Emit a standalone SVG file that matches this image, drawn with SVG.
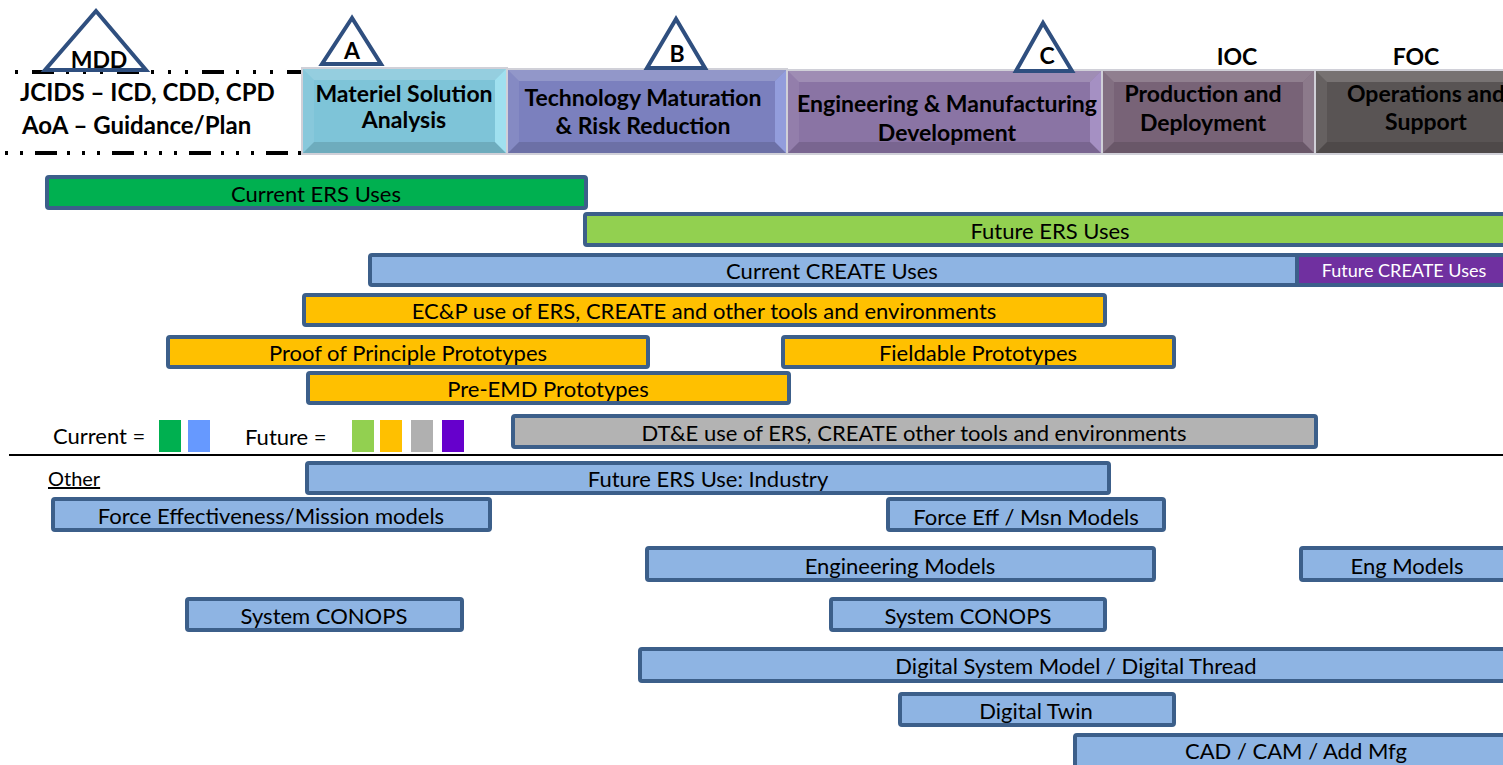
<svg xmlns="http://www.w3.org/2000/svg" width="1503" height="765" viewBox="0 0 1503 765">
<style>
.bar{stroke:#3C5F8A;stroke-width:4}
.blue{fill:#8EB4E3}
.t{font-family:Lato,"Liberation Sans",sans-serif;font-size:22px;fill:#000;text-anchor:middle;dominant-baseline:central}
.ph{font-family:Lato,"Liberation Sans",sans-serif;font-size:23px;font-weight:bold;fill:#000;text-anchor:middle}
.tri{fill:#fff;stroke:#2F4F7F;stroke-width:4;stroke-linejoin:miter}
.lbl{font-family:Lato,"Liberation Sans",sans-serif;font-size:23px;font-weight:bold;fill:#000;text-anchor:middle}
.hl{fill:#fff;opacity:.18}
.hd{fill:#000;opacity:.12}
.edge{fill:none;stroke:#D0D0D8;stroke-width:2}
</style>
<rect width="1503" height="765" fill="#fff"/>

<!-- left dashed frame -->
<g id="jcids">
<line x1="15" y1="72" x2="302" y2="72" stroke="#000" stroke-width="4" stroke-dasharray="3 14 22 12 3 14 3 14"/>
<line x1="5" y1="153" x2="322" y2="153" stroke="#000" stroke-width="4" stroke-dasharray="3 12 3 12 22 10 3 12"/>
<text x="20" y="101" font-family="Lato,'Liberation Sans',sans-serif" font-size="24" font-weight="bold">JCIDS – ICD, CDD, CPD</text>
<text x="22" y="134" font-family="Lato,'Liberation Sans',sans-serif" font-size="24" font-weight="bold">AoA – Guidance/Plan</text>
</g>

<!-- phases -->
<g id="msa">
<rect x="302" y="68" width="205" height="86" fill="#7EC4D8"/>
<polygon points="302,68 507,68 495,80 314,80" class="hl"/>
<polygon points="302,68 314,80 314,142 302,154" fill="#fff" opacity=".08"/>
<polygon points="302,154 314,142 495,142 507,154" class="hd"/>
<polygon points="507,68 495,80 495,142 507,154" fill="#B8F4FF" opacity=".6"/>
<rect x="302" y="68" width="205" height="86" class="edge" stroke="#A8E6F4"/>
<text x="404" y="102" class="ph">Materiel Solution</text>
<text x="404" y="128" class="ph">Analysis</text>
</g>
<g id="tmrr">
<rect x="507" y="69" width="280" height="85" fill="#7B80BE"/>
<polygon points="507,69 787,69 775,81 519,81" class="hl"/>
<polygon points="507,69 519,81 519,142 507,154" fill="#fff" opacity=".08"/>
<polygon points="507,154 519,142 775,142 787,154" class="hd"/>
<polygon points="787,69 775,81 775,142 787,154" fill="#A4B0F0" opacity=".6"/>
<rect x="507" y="69" width="280" height="85" class="edge"/>
<text x="643" y="106" class="ph">Technology Maturation</text>
<text x="643" y="134" class="ph">&amp; Risk Reduction</text>
</g>
<g id="emd">
<rect x="787" y="70" width="315" height="84" fill="#8A74A4"/>
<polygon points="787,70 1102,70 1090,82 799,82" class="hl"/>
<polygon points="787,70 799,82 799,142 787,154" fill="#fff" opacity=".08"/>
<polygon points="787,154 799,142 1090,142 1102,154" class="hd"/>
<polygon points="1102,70 1090,82 1090,142 1102,154" fill="#B8A4D8" opacity=".6"/>
<rect x="787" y="70" width="315" height="84" class="edge"/>
<text x="947" y="112" class="ph">Engineering &amp; Manufacturing</text>
<text x="947" y="141" class="ph">Development</text>
</g>
<g id="pd">
<rect x="1102" y="70" width="213" height="84" fill="#786377"/>
<polygon points="1102,70 1315,70 1303,82 1114,82" class="hl"/>
<polygon points="1102,70 1114,82 1114,142 1102,154" fill="#fff" opacity=".08"/>
<polygon points="1102,154 1114,142 1303,142 1315,154" class="hd"/>
<polygon points="1315,70 1303,82 1303,142 1315,154" fill="#9A8A9A" opacity=".6"/>
<rect x="1102" y="70" width="213" height="84" class="edge"/>
<text x="1203" y="102" class="ph">Production and</text>
<text x="1203" y="131" class="ph">Deployment</text>
</g>
<g id="os">
<rect x="1315" y="70" width="200" height="84" fill="#595454"/>
<polygon points="1315,70 1515,70 1503,82 1327,82" class="hl"/>
<polygon points="1315,70 1327,82 1327,142 1315,154" fill="#fff" opacity=".08"/>
<polygon points="1315,154 1327,142 1503,142 1515,154" class="hd"/>
<rect x="1315" y="70" width="200" height="84" class="edge"/>
<text x="1426" y="102" class="ph">Operations and</text>
<text x="1426" y="130" class="ph">Support</text>
</g>

<!-- milestones -->
<g id="mdd">
<polygon points="96,11 45,70 146,70" class="tri"/>
<text x="99" y="68" class="lbl">MDD</text>
</g>
<g id="ms-a">
<polygon points="352,18 322,64 381,64" class="tri"/>
<text x="352" y="59" class="lbl">A</text>
</g>
<g id="ms-b">
<polygon points="676,19 647,68 705,68" class="tri"/>
<text x="677" y="62" class="lbl">B</text>
</g>
<g id="ms-c">
<polygon points="1043,23 1016,71 1072,71" class="tri"/>
<text x="1047" y="64" class="lbl">C</text>
</g>
<g id="ioc"><text x="1237" y="65" class="lbl">IOC</text></g>
<g id="foc"><text x="1416" y="65" class="lbl">FOC</text></g>

<!-- bars -->
<g id="current-ers"><rect x="47" y="177" width="539" height="31" rx="2" class="bar" fill="#00B050"/><text x="316" y="193" class="t">Current ERS Uses</text></g>
<g id="future-ers"><rect x="585" y="214" width="930" height="31" rx="2" class="bar" fill="#92D050"/><text x="1050" y="230" class="t">Future ERS Uses</text></g>
<g id="current-create"><rect x="370" y="255" width="927" height="30" rx="2" class="bar blue"/><text x="832" y="270" class="t">Current CREATE Uses</text></g>
<g id="future-create"><rect x="1297" y="255" width="218" height="30" class="bar" fill="#7030A0"/><text x="1404" y="270" class="t" style="fill:#fff;font-size:18px">Future CREATE Uses</text></g>
<g id="ecp"><rect x="304" y="295" width="801" height="30" rx="2" class="bar" fill="#FFC000"/><text x="704" y="310" class="t">EC&amp;P use of ERS, CREATE and other tools and environments</text></g>
<g id="pop"><rect x="168" y="337" width="480" height="30" rx="2" class="bar" fill="#FFC000"/><text x="408" y="352" class="t">Proof of Principle Prototypes</text></g>
<g id="fieldable"><rect x="783" y="337" width="391" height="30" rx="2" class="bar" fill="#FFC000"/><text x="978" y="352" class="t">Fieldable Prototypes</text></g>
<g id="preemd"><rect x="308" y="373" width="481" height="30" rx="2" class="bar" fill="#FFC000"/><text x="548" y="388" class="t">Pre-EMD Prototypes</text></g>
<g id="dte"><rect x="513" y="416" width="803" height="31" rx="2" class="bar" fill="#B3B3B3"/><text x="914" y="432" class="t">DT&amp;E use of ERS, CREATE other tools and environments</text></g>

<!-- legend -->
<g id="legend">
<text x="53" y="444" font-family="Lato,'Liberation Sans',sans-serif" font-size="22">Current =</text>
<rect x="159" y="420" width="22" height="32" fill="#00B050"/>
<rect x="188" y="420" width="22" height="32" fill="#6699FF"/>
<text x="245" y="445" font-family="Lato,'Liberation Sans',sans-serif" font-size="22">Future =</text>
<rect x="352" y="420" width="22" height="32" fill="#92D050"/>
<rect x="380" y="420" width="22" height="32" fill="#FFC000"/>
<rect x="411" y="420" width="22" height="32" fill="#B0B0B0"/>
<rect x="442" y="420" width="22" height="32" fill="#6600CC"/>
<line x1="9" y1="455" x2="1503" y2="455" stroke="#000" stroke-width="2"/>
<text x="48" y="486" font-family="Lato,'Liberation Sans',sans-serif" font-size="20" text-decoration="underline">Other</text>
</g>

<g id="industry"><rect x="307" y="463" width="802" height="30" rx="2" class="bar blue"/><text x="708" y="478" class="t">Future ERS Use: Industry</text></g>
<g id="force-eff"><rect x="53" y="499" width="437" height="31" rx="2" class="bar blue"/><text x="271" y="515" class="t">Force Effectiveness/Mission models</text></g>
<g id="force-eff2"><rect x="888" y="499" width="276" height="31" rx="2" class="bar blue"/><text x="1026" y="516" class="t">Force Eff / Msn Models</text></g>
<g id="eng-models"><rect x="647" y="548" width="507" height="32" rx="2" class="bar blue"/><text x="900" y="565" class="t">Engineering Models</text></g>
<g id="eng-models2"><rect x="1301" y="548" width="214" height="32" rx="2" class="bar blue"/><text x="1407" y="565" class="t">Eng Models</text></g>
<g id="conops1"><rect x="187" y="599" width="275" height="31" rx="2" class="bar blue"/><text x="324" y="615" class="t">System CONOPS</text></g>
<g id="conops2"><rect x="831" y="599" width="274" height="31" rx="2" class="bar blue"/><text x="968" y="615" class="t">System CONOPS</text></g>
<g id="dsm"><rect x="640" y="649" width="875" height="32" rx="2" class="bar blue"/><text x="1076" y="665" class="t">Digital System Model / Digital Thread</text></g>
<g id="twin"><rect x="900" y="694" width="274" height="31" rx="2" class="bar blue"/><text x="1036" y="710" class="t">Digital Twin</text></g>
<g id="cad"><rect x="1075" y="735" width="440" height="40" rx="2" class="bar blue"/><text x="1296" y="750" class="t">CAD / CAM / Add Mfg</text></g>
</svg>
